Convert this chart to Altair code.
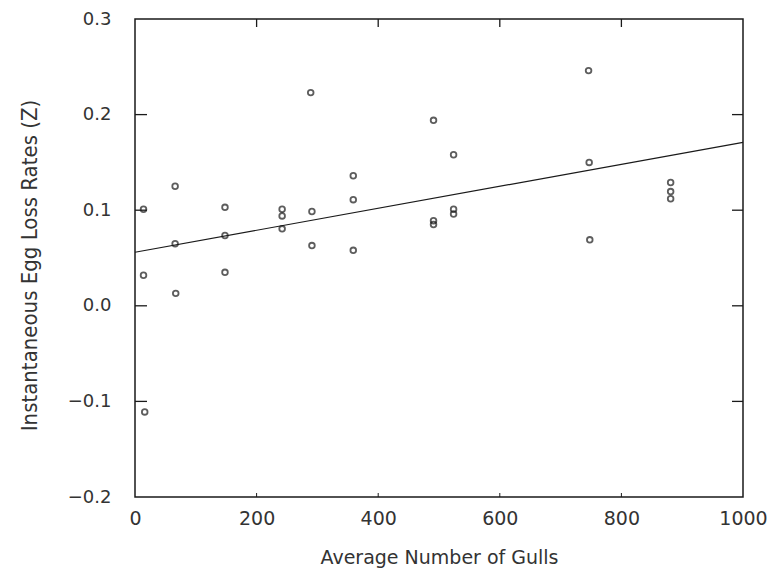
import altair as alt
import pandas as pd

# Data
gulls = [14, 14, 16, 66, 66, 67, 148, 148, 148, 242, 242, 242, 289, 291, 291,
         359, 359, 359, 491, 491, 491, 524, 524, 524, 746, 747, 748, 881, 881, 881]
egg_z = [0.101, 0.032, -0.111, 0.125, 0.065, 0.013, 0.103, 0.0735, 0.035,
         0.101, 0.094, 0.0805, 0.223, 0.0986, 0.063, 0.136, 0.111, 0.058,
         0.194, 0.089, 0.085, 0.158, 0.101, 0.096, 0.246, 0.150, 0.069,
         0.129, 0.1195, 0.112]
fit_x = [0, 1000]
fit_z = [0.056, 0.171]
y_ticks = [-0.1, 0.0, 0.1, 0.2]
x_ticks = [200, 400, 600, 800]
y_labels = [-0.2, -0.1, 0.0, 0.1, 0.2, 0.3]
x_labels = [0, 200, 400, 600, 800, 1000]

W, H = 608, 478
INK = "#1a1a1a"
TICK_FONT = "DejaVu Sans"

xs = alt.Scale(domain=[0, 1000], nice=False, zero=False)
ys = alt.Scale(domain=[-0.2, 0.3], nice=False, zero=False)

xaxis = alt.Axis(values=x_labels, format="d", domain=False, ticks=False, grid=False,
                 labelFont=TICK_FONT, labelFontSize=19, labelColor="#333",
                 labelPadding=12, labelFlush=False, labelOverlap=False,
                 title="Average Number of Gulls", titleFont=TICK_FONT,
                 titleFontSize=19, titleFontWeight="normal", titleColor="#333",
                 titlePadding=20)
yaxis = alt.Axis(values=y_labels, format=".1f", domain=False, ticks=False, grid=False,
                 labelFont=TICK_FONT, labelFontSize=18, labelColor="#333",
                 labelPadding=24, labelFlush=False, labelOverlap=False,
                 title="Instantaneous Egg Loss Rates (Z)",
                 titleFont="'Liberation Sans Narrow', 'DejaVu Sans Condensed', sans-serif",
                 titleFontSize=22, titleFontWeight="normal", titleColor="#333",
                 titlePadding=26, titleY=246)

X = lambda f="x": alt.X(f"{f}:Q", scale=xs, axis=xaxis)
Y = lambda f="y": alt.Y(f"{f}:Q", scale=ys, axis=yaxis)

pts_df = pd.DataFrame({"x": gulls, "y": egg_z})
fit_df = pd.DataFrame({"x": fit_x, "y": fit_z})
yt_df = pd.DataFrame({"y": y_ticks})
xt_df = pd.DataFrame({"x": x_ticks})

points = alt.Chart(pts_df).mark_point(shape="circle", filled=False, size=32,
                                       stroke=INK, strokeWidth=1.8).encode(x=X(), y=Y())
fit = alt.Chart(fit_df).mark_line(color=INK, strokeWidth=1.2).encode(x=X(), y=Y())

left_ticks = alt.Chart(yt_df).mark_rule(color=INK, strokeWidth=1.3).encode(
    y=Y(), x=alt.value(0), x2=alt.value(12))
right_ticks = alt.Chart(yt_df).mark_rule(color=INK, strokeWidth=1.3).encode(
    y=Y(), x=alt.value(W - 11), x2=alt.value(W))
top_ticks = alt.Chart(xt_df).mark_rule(color=INK, strokeWidth=1.3).encode(
    x=X(), y=alt.value(0), y2=alt.value(8))
bottom_ticks = alt.Chart(xt_df).mark_rule(color=INK, strokeWidth=1.0).encode(
    x=X(), y=alt.value(H - 4), y2=alt.value(H))

chart = alt.layer(left_ticks, right_ticks, top_ticks, bottom_ticks, fit, points).properties(
    width=W, height=H,
    autosize=alt.AutoSizeParams(type="none"),
    padding={"left": 127, "top": 11, "right": 33, "bottom": 75},
    background="white",
).configure_view(stroke=INK, strokeWidth=1.5)

chart.save("out.html", embed_options={"renderer": "svg", "actions": False})
